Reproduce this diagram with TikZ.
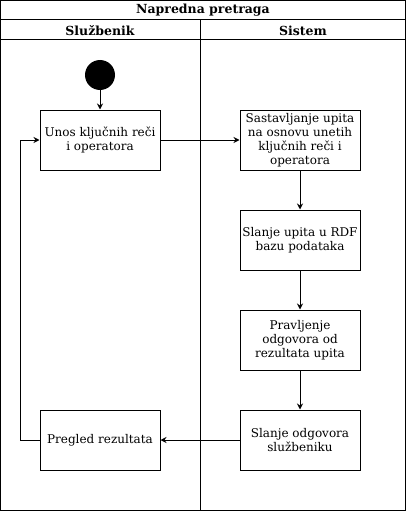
\documentclass[tikz,border=0pt]{standalone}
\usepackage{fontspec}
\setmainfont{DejaVu Serif}
\usetikzlibrary{arrows.meta}
\begin{document}
\begin{tikzpicture}[x=1pt,y=-1pt,
  act/.style={draw,line width=1pt,minimum width=120pt,minimum height=60pt,align=center,inner sep=0pt,font=\fontsize{12}{14}\selectfont},
  flow/.style={line width=1pt,-{Stealth[length=6pt,width=6pt,inset=2pt]}},
  frame/.style={draw,line width=1pt},
  hdr/.style={font=\fontsize{12.5}{14}\selectfont\bfseries}]
\useasboundingbox (0,0) rectangle (406,511);
% frame
\draw[frame] (0.5,0.5) rectangle (405.5,510.5);
\draw[frame] (0.5,20) -- (405.5,20);
\draw[frame] (0.5,40) -- (405.5,40);
\draw[frame] (200.5,20) -- (200.5,510.5);
\node[hdr] (title) at (203,10.5) {Napredna pretraga};
\node[hdr] (lane1) at (100,30.5) {Službenik};
\node[hdr] (lane2) at (303,30.5) {Sistem};
% nodes
\node[circle,fill=black,minimum size=30pt,inner sep=0pt] (start) at (100,75) {};
\node[act] (unos) at (100,140) {Unos ključnih reči\\i operatora};
\node[act] (sast) at (300,140) {Sastavljanje upita\\na osnovu unetih\\ključnih reči i\\operatora};
\node[act] (slanje) at (300,240) {Slanje upita u RDF\\bazu podataka};
\node[act] (prav) at (300,340) {Pravljenje\\odgovora od\\rezultata upita};
\node[act] (odg) at (300,440) {Slanje odgovora\\službeniku};
\node[act] (preg) at (100,440) {Pregled rezultata};
\coordinate (c1) at (20,440);
\coordinate (c2) at (20,140);
% edges
\draw[flow] (start) -- (unos);
\draw[flow] (unos) -- (sast);
\draw[flow] (sast) -- (slanje);
\draw[flow] (slanje) -- (prav);
\draw[flow] (prav) -- (odg);
\draw[flow] (odg) -- (preg);
\draw[flow] (preg.west) -- (c1) -- (c2) -- (unos.west);
\end{tikzpicture}
\end{document}
